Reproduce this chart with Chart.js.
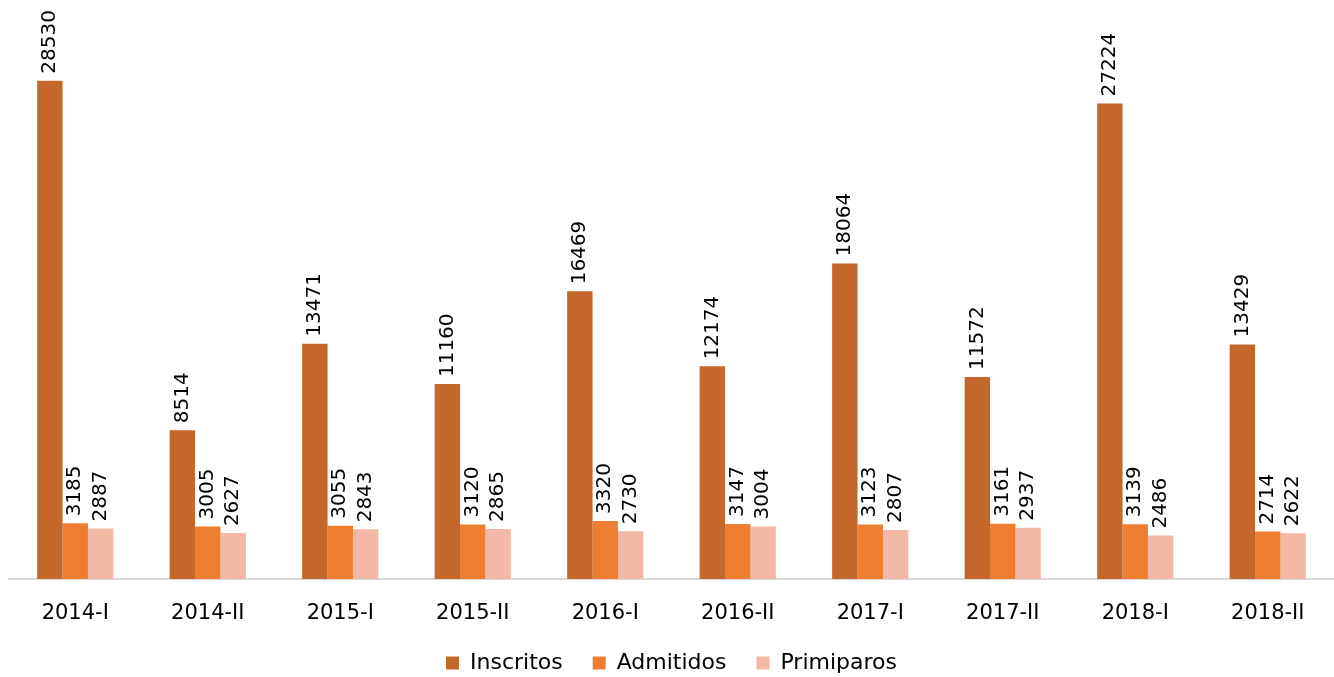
<!DOCTYPE html>
<html>
<head>
<meta charset="utf-8">
<script src="https://cdn.jsdelivr.net/npm/chart.js@4/dist/chart.umd.min.js"></script>
<style>
html,body{margin:0;padding:0;background:#fff;}
#wrap{width:1334px;height:677px;}
</style>
</head>
<body>
<div id="wrap"><canvas id="c" width="1334" height="677"></canvas></div>
<script>
const categories = ["2014-I","2014-II","2015-I","2015-II","2016-I","2016-II","2017-I","2017-II","2018-I","2018-II"];
const inscritos = [28530, 8514, 13471, 11160, 16469, 12174, 18064, 11572, 27224, 13429];
const admitidos = [3185, 3005, 3055, 3120, 3320, 3147, 3123, 3161, 3139, 2714];
const primiparos = [2887, 2627, 2843, 2865, 2730, 3004, 2807, 2937, 2486, 2622];
const seriesNames = ["Inscritos", "Admitidos", "Primiparos"];
const FONT = "'DejaVu Sans', sans-serif";

const labelPlugin = {
  id: 'vlabels',
  afterDatasetsDraw(chart) {
    const ctx = chart.ctx;
    ctx.save();
    ctx.font = "20px " + FONT;
    ctx.fillStyle = "#000";
    ctx.textAlign = "left";
    ctx.textBaseline = "middle";
    chart.data.datasets.forEach((ds, di) => {
      const meta = chart.getDatasetMeta(di);
      meta.data.forEach((bar, i) => {
        ctx.save();
        ctx.translate(bar.x, bar.y - 7);
        ctx.rotate(-Math.PI / 2);
        ctx.fillText(String(ds.data[i]), 0, 0);
        ctx.restore();
      });
    });
    ctx.restore();
  }
};

const legendFitPlugin = {
  id: 'legendFit',
  beforeInit(chart) {
    const lg = chart.legend;
    const orig = lg.fit;
    lg.fit = function () {
      orig.call(this);
      this.height -= 7;
    };
  }
};

new Chart(document.getElementById('c'), {
  type: 'bar',
  data: {
    labels: categories,
    datasets: [
      { label: seriesNames[0], data: inscritos, backgroundColor: '#C4672B' },
      { label: seriesNames[1], data: admitidos, backgroundColor: '#ED7D31' },
      { label: seriesNames[2], data: primiparos, backgroundColor: '#F4B9A6' }
    ]
  },
  options: {
    responsive: false,
    animation: false,
    devicePixelRatio: 1,
    layout: { padding: { left: 9, right: 0, top: 55, bottom: 0 } },
    datasets: { bar: { barPercentage: 1.0, categoryPercentage: 0.575 } },
    scales: {
      x: {
        grid: { display: false, drawTicks: false },
        border: { display: true, color: '#D9D9D9', width: 2 },
        ticks: { color: '#000', font: { family: FONT, size: 21 }, padding: 22, maxRotation: 0 },
        afterFit(scale) { scale.height = 43; }
      },
      y: {
        display: false,
        min: 0, max: 30000
      }
    },
    plugins: {
      legend: {
        position: 'bottom',
        labels: {
          color: '#000',
          font: { family: FONT, size: 22 },
          boxWidth: 13, boxHeight: 13,
          padding: 30
        }
      },
      tooltip: { enabled: false }
    }
  },
  plugins: [labelPlugin, legendFitPlugin]
});
</script>
</body>
</html>
